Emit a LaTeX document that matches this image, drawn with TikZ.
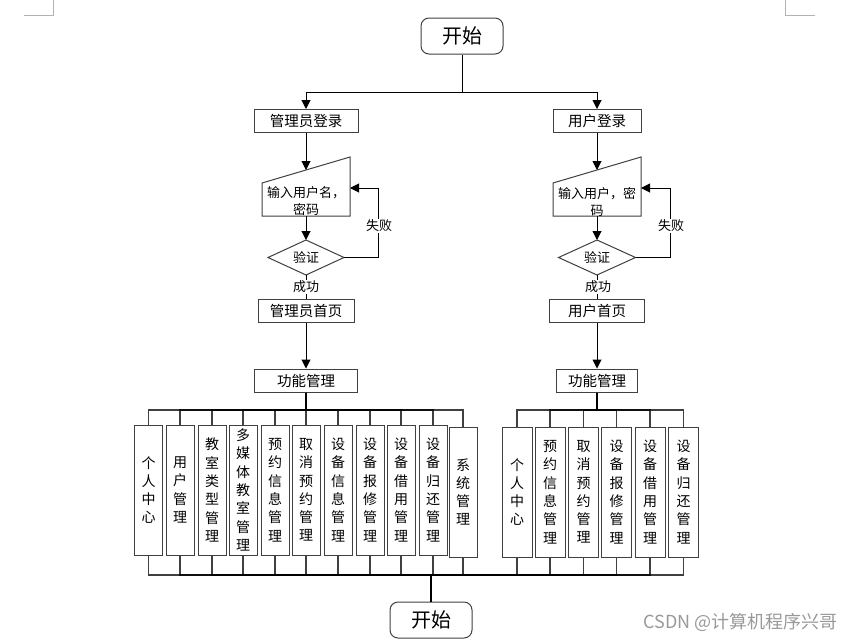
\documentclass[tikz,border=0pt]{standalone}
\usepackage{fontspec}
\setmainfont{Noto Sans CJK SC}
\usetikzlibrary{arrows.meta,calc}
\begin{document}
\begin{tikzpicture}[x=1pt,y=-1pt,
  flow/.style={draw=black, line width=1pt},
  arr/.style={flow, -{Triangle[length=9pt,width=9pt]}},
  bus/.style={draw=black, line width=1.2pt, draw opacity=0.75},
  box/.style={draw=black!75, line width=1pt, fill=white, inner sep=0pt, minimum height=23pt, font=\fontsize{14.5}{16}\selectfont},
  term/.style={draw=black!75, line width=1pt, fill=white, rounded corners=8pt, minimum width=82pt, minimum height=36pt, inner sep=0pt, font=\fontsize{20}{22}\selectfont},
  vbox/.style={draw=black!75, line width=1pt, fill=white, inner sep=0pt, minimum height=130pt, align=center, font=\fontsize{14}{18.3}\selectfont},
  lbl/.style={fill=white, inner sep=1pt, font=\fontsize{13}{15}\selectfont},
  txt/.style={inner sep=0pt, align=center, font=\fontsize{13}{17}\selectfont},
  shp/.style={draw=black!75, line width=1pt, fill=white},
  cornermark/.style={draw=black!30, line width=1pt},
]
\useasboundingbox (0,0) rectangle (854,643);

% page corner marks
\draw[cornermark] (24,15) -- (53,15) -- (53,0);
\draw[cornermark] (785,0) -- (785,15) -- (815,15);

% top
\node[term] (start) at (462,36) {开始};
\node[box, minimum width=104pt] (admin) at (306,121) {管理员登录};
\node[box, minimum width=88pt] (user) at (597,121) {用户登录};
\coordinate (split) at (462,92);
\draw[flow] (start.south) -- (split);
\draw[arr] (split) -| (admin.north);
\draw[arr] (split) -| (user.north);

% ---------- left column ----------
\draw[shp] (262,183) -- (350,157) -- (350,216) -- (262,216) -- cycle;
\node[txt] (inL) at (306,201.5) {输入用户名，\\密码};
\coordinate (tLtop) at (306,170);
\coordinate (tLbot) at (306,216);
\coordinate (tLright) at (350,188);
\draw[shp] (268,257.5) -- (306,240) -- (344,257.5) -- (306,275) -- cycle;
\node[txt] (vL) at (306,257.5) {验证};
\coordinate (dLtop) at (306,240);
\coordinate (dLright) at (344,257.5);
\coordinate (dLbot) at (306,275);
\node[box, minimum width=96pt] (adminHome) at (306,310.5) {管理员首页};
\node[box, minimum width=103pt] (funcL) at (306,380.5) {功能管理};

\draw[arr] (admin.south) -- (tLtop);
\draw[arr] (tLbot) -- (dLtop);
\draw[arr] (dLright) -- ++(34,0) |- (tLright);
\node[lbl] (failL) at (379,226) {失败};
\draw[flow] (dLbot) -- (adminHome.north);
\node[lbl] (okL) at (306,287) {成功};
\draw[arr] (adminHome.south) -- (funcL.north);

% ---------- right column ----------
\draw[shp] (553,183) -- (641,157) -- (641,216) -- (553,216) -- cycle;
\node[txt] (inR) at (597,201.5) {输入用户，密\\码};
\coordinate (tRtop) at (597,170);
\coordinate (tRbot) at (597,216);
\coordinate (tRright) at (641,188);
\draw[shp] (558.5,257.5) -- (597,240) -- (635.5,257.5) -- (597,275) -- cycle;
\node[txt] (vR) at (597,257.5) {验证};
\coordinate (dRtop) at (597,240);
\coordinate (dRright) at (635.5,257.5);
\coordinate (dRbot) at (597,275);
\node[box, minimum width=95pt] (userHome) at (597,310.5) {用户首页};
\node[box, minimum width=81pt] (funcR) at (597,380.5) {功能管理};

\draw[arr] (user.south) -- (tRtop);
\draw[arr] (tRbot) -- (dRtop);
\draw[arr] (dRright) -- ++(34.5,0) |- (tRright);
\node[lbl] (failR) at (671,226) {失败};
\draw[flow] (dRbot) -- (userHome.north);
\node[lbl] (okR) at (598,287) {成功};
\draw[arr] (userHome.south) -- (funcR.north);

% ---------- function boxes ----------
\node[vbox, minimum width=28pt] (L1) at (148.5,490) {个\\人\\中\\心};
\node[vbox, minimum width=28pt] (L2) at (180,490) {用\\户\\管\\理};
\node[vbox, minimum width=28pt] (L3) at (212,490) {教\\室\\类\\型\\管\\理};
\node[vbox, minimum width=28pt] (L4) at (243,490) {多\\媒\\体\\教\\室\\管\\理};
\node[vbox, minimum width=28pt] (L5) at (275,490) {预\\约\\信\\息\\管\\理};
\node[vbox, minimum width=28pt] (L6) at (306,490) {取\\消\\预\\约\\管\\理};
\node[vbox, minimum width=28pt] (L7) at (338,490) {设\\备\\信\\息\\管\\理};
\node[vbox, minimum width=28pt] (L8) at (370,490) {设\\备\\报\\修\\管\\理};
\node[vbox, minimum width=28pt] (L9) at (401,490) {设\\备\\借\\用\\管\\理};
\node[vbox, minimum width=28pt] (L10) at (433,490) {设\\备\\归\\还\\管\\理};
\node[vbox, minimum width=28pt] (L11) at (463,492) {系\\统\\管\\理};

\node[vbox, minimum width=30pt] (R1) at (517,492) {个\\人\\中\\心};
\node[vbox, minimum width=30pt] (R2) at (550,492) {预\\约\\信\\息\\管\\理};
\node[vbox, minimum width=30pt] (R3) at (583.5,492) {取\\消\\预\\约\\管\\理};
\node[vbox, minimum width=30pt] (R4) at (616.5,492) {设\\备\\报\\修\\管\\理};
\node[vbox, minimum width=30pt] (R5) at (650,492) {设\\备\\借\\用\\管\\理};
\node[vbox, minimum width=30pt] (R6) at (683.5,492) {设\\备\\归\\还\\管\\理};

\coordinate (busL) at (306,410);
\coordinate (busR) at (597,410);
\foreach \n in {L1,L2,L3,L4,L5,L6,L7,L8,L9,L10,L11}
  \draw[bus] (funcL.south) -- (busL) -| (\n.north);
\foreach \n in {R1,R2,R3,R4,R5,R6}
  \draw[bus] (funcR.south) -- (busR) -| (\n.north);

% bottom
\node[term] (end) at (431,620) {开始};
\coordinate (busB) at (431,575);
\foreach \n in {L1,L2,L3,L4,L5,L6,L7,L8,L9,L10,L11,R1,R2,R3,R4,R5,R6}
  \draw[bus] (\n.south) |- (busB);
\draw[flow, line width=1.3pt] (busB) -- (end.north);

% watermark
\node[anchor=east, inner sep=0pt, text=black!40, font=\fontsize{18}{20}\selectfont] (wm) at (838,622) {CSDN @计算机程序兴哥};
\end{tikzpicture}
\end{document}
